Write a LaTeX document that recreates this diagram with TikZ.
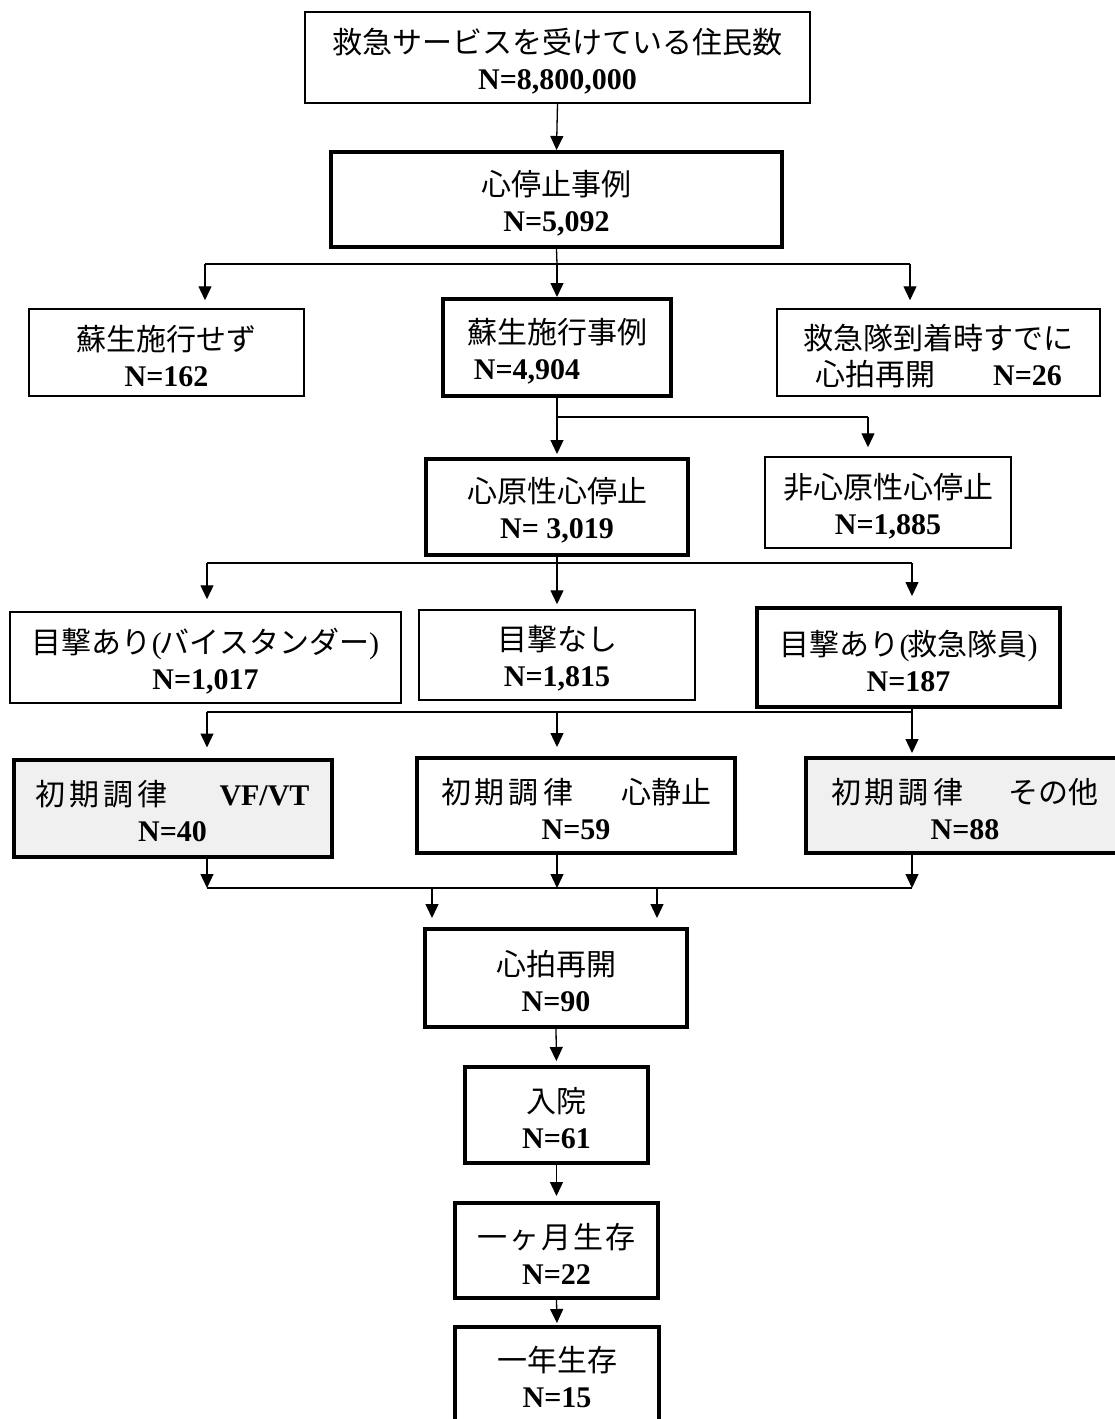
\documentclass[tikz,border=0pt]{standalone}
\usepackage{fontspec}
\setmainfont{Liberation Serif}
\newfontfamily\jp{Noto Sans CJK JP}
\usetikzlibrary{arrows.meta}
\newcommand{\nm}[1]{\textbf{#1}}
\newcommand{\up}{\rule{0pt}{32pt}}
\begin{document}
\begin{tikzpicture}[x=1pt,y=-1pt,
  tbox/.style={draw,line width=1.5pt,align=center,inner sep=0pt,fill=white,
    font=\fontsize{30}{36}\selectfont},
  kbox/.style={tbox,line width=4pt},
  gbox/.style={kbox,fill=gray!12},
  conn/.style={line width=1.3pt},
  arr/.style={conn,-{Triangle[length=14pt,width=13pt]}}]
\useasboundingbox (0,0) rectangle (1115,1419);

% boxes
\node[tbox,minimum width=505pt,minimum height=91pt] (top) at (557.5,57.5)
  {\up{\jp 救急サービスを受けている住民数}\\\nm{N=8,800,000}};
\node[kbox,minimum width=451pt,minimum height=95pt] (cs) at (556.5,199.5)
  {\up{\jp 心停止事例}\\\nm{N=5,092}};
\node[tbox,minimum width=275pt,minimum height=87pt] (nr) at (166.5,352.5)
  {\up{\jp 蘇生施行せず}\\\nm{N=162}};
\node[kbox,minimum width=228pt,minimum height=97pt] (rs) at (557,347.5)
  {\up{\jp 蘇生施行事例}\\\nm{N=4,904}\hspace*{60pt}};
\node[tbox,minimum width=323pt,minimum height=87pt] (rz) at (938.5,352.5)
  {\up{\jp 救急隊到着時すでに}\\{\jp 心拍再開}\hspace{58pt}\nm{N=26}};
\node[kbox,minimum width=262pt,minimum height=96pt] (card) at (557,507)
  {\up{\jp 心原性心停止}\\\nm{N= 3,019}};
\node[tbox,minimum width=246pt,minimum height=91pt] (ncard) at (888,502.5)
  {\up{\jp 非心原性心停止}\\\nm{N=1,885}};
\node[tbox,minimum width=391pt,minimum height=91pt] (wb) at (205.5,657.5)
  {\up{\jp 目撃あり}(\hspace{-2pt}{\jp バイスタンダー})\\\nm{N=1,017}};
\node[tbox,minimum width=276pt,minimum height=90pt] (wn) at (557,655)
  {\up{\jp 目撃なし}\\\nm{N=1,815}};
\node[kbox,minimum width=303pt,minimum height=99pt] (we) at (908.5,657.5)
  {\up{\jp 目撃あり}(\hspace{-2pt}{\jp 救急隊員})\\\nm{N=187}};
\node[gbox,minimum width=318pt,minimum height=97pt] (vf) at (172.5,808)
  {\up{\jp 初\hspace{4pt}期\hspace{4pt}調\hspace{4pt}律}\hspace{52pt}\nm{VF/VT}\\\nm{N=40}};
\node[kbox,minimum width=318pt,minimum height=95pt] (as) at (576,805.5)
  {\up{\jp 初\hspace{4pt}期\hspace{4pt}調\hspace{4pt}律}\hspace{48pt}{\jp 心静止}\\\nm{N=59}};
\node[gbox,minimum width=330pt,minimum height=95pt] (ot) at (971,805.5)
  {\up{\jp 初\hspace{4pt}期\hspace{4pt}調\hspace{4pt}律}\hspace{46pt}{\jp その他}\hspace*{12pt}\\\nm{N=88}\hspace*{12pt}};
\node[kbox,minimum width=262pt,minimum height=98pt] (rosc) at (556,978)
  {\up{\jp 心拍再開}\\\nm{N=90}};
\node[kbox,minimum width=183pt,minimum height=96pt] (hosp) at (556.5,1115)
  {\up{\jp 入院}\\\nm{N=61}};
\node[kbox,minimum width=203pt,minimum height=95pt] (m1) at (556.5,1250.5)
  {\up{\jp 一\hspace{2pt}ヶ\hspace{2pt}月\hspace{2pt}生\hspace{2pt}存}\\\nm{N=22}};
\node[kbox,minimum width=204pt,minimum height=130pt] (y1) at (557,1392)
  {\up{\jp 一年生存}\\\nm{N=15}\rule[-38pt]{0pt}{38pt}};

% top chain
\draw[arr] (top.south) -- (cs.north);

% bus 1
\coordinate (b1) at (557,264);
\coordinate (b1l) at (205,264);
\coordinate (b1r) at (910,264);
\draw[conn] (cs.south) -- (b1);
\draw[conn] (b1l) -- (b1r);
\draw[arr,shorten >=8pt] (b1l) -- (nr.north -| b1l);
\draw[arr] (b1) -- (rs.north);
\draw[arr,shorten >=8pt] (b1r) -- (rz.north -| b1r);

% bus 2
\coordinate (b2) at (557,417);
\coordinate (b2r) at (868,417);
\draw[arr,shorten >=3pt] (rs.south) -- (card.north);
\draw[conn] (b2) -- (b2r);
\draw[arr,shorten >=9pt] (b2r) -- (ncard.north -| b2r);

% bus 3
\coordinate (b3) at (557,563);
\coordinate (b3l) at (207,563);
\coordinate (b3r) at (912,563);
\draw[conn] (card.south) -- (b3);
\draw[conn] (b3l) -- (b3r);
\draw[arr,shorten >=12pt] (b3l) -- (wb.north -| b3l);
\draw[arr,shorten >=5pt] (b3) -- (wn.north);
\draw[arr,shorten >=10pt] (b3r) -- (we.north -| b3r);

% bus 4
\coordinate (b4) at (557,712);
\coordinate (b4l) at (207,712);
\coordinate (b4r) at (912,712);
\draw[conn] (b4l) -- (b4r);
\draw[conn] (we.south -| b4r) -- (b4r);
\draw[arr,shorten >=10pt] (b4l) -- (vf.north -| b4l);
\draw[arr,shorten >=9pt] (b4) -- (as.north -| b4);
\draw[arr,shorten >=3pt] (b4r) -- (ot.north -| b4r);

% bus 5
\coordinate (b5) at (557,888);
\coordinate (b5l) at (207,888);
\coordinate (b5r) at (912,888);
\coordinate (b5a) at (432,888);
\coordinate (b5b) at (657,888);
\draw[arr] (vf.south -| b5l) -- (b5l);
\draw[arr] (as.south -| b5) -- (b5);
\draw[arr] (ot.south -| b5r) -- (b5r);
\draw[conn] (b5l) -- (b5r);
\draw[arr,shorten >=9pt] (b5a) -- (rosc.north -| b5a);
\draw[arr,shorten >=9pt] (b5b) -- (rosc.north -| b5b);

% bottom chain
\draw[arr,shorten >=4pt] (rosc.south) -- (hosp.north);
\draw[arr,shorten >=5pt] (hosp.south) -- (m1.north);
\draw[arr,shorten >=2pt] (m1.south) -- (y1.north);
\end{tikzpicture}
\end{document}
